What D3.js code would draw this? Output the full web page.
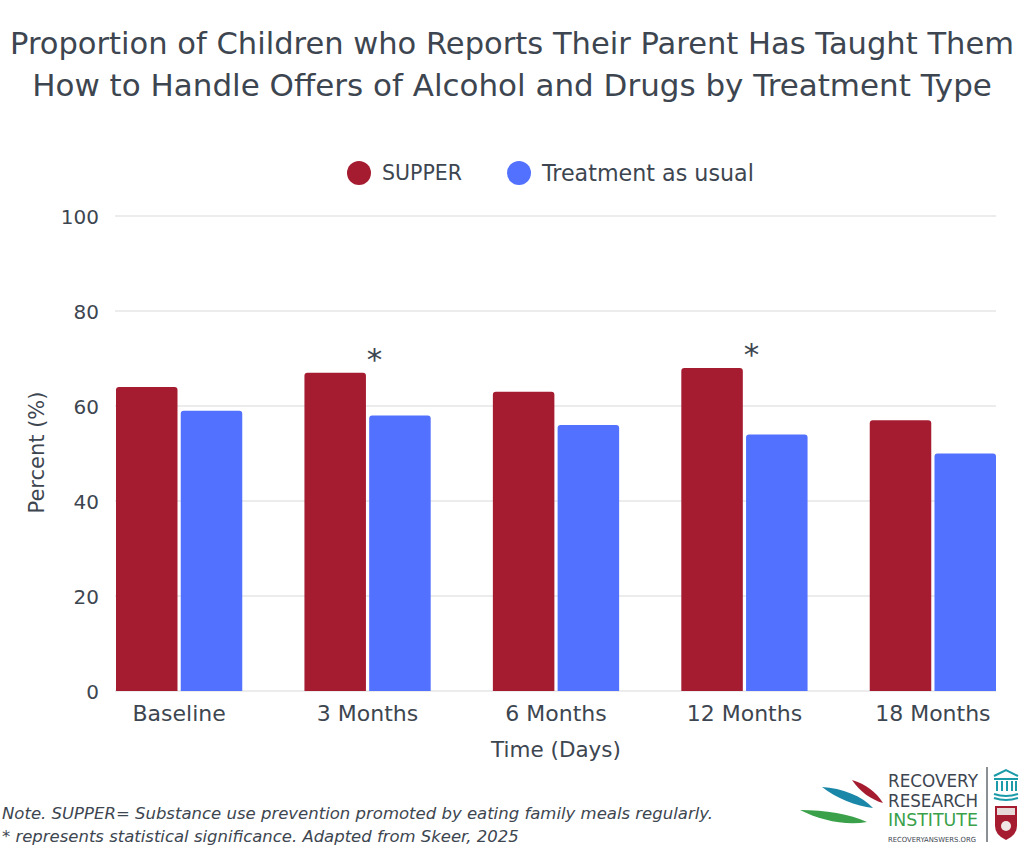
<!DOCTYPE html>
<html>
<head>
<meta charset="utf-8">
<script src="https://cdn.jsdelivr.net/npm/d3@7"></script>
<style>
  html, body { margin: 0; padding: 0; background: #fff; }
  svg { display: block; }
  text { font-family: "DejaVu Sans", "Noto Sans", sans-serif; fill: #3d4650; }
</style>
</head>
<body>
<div id="chart"></div>
<script>
// Data
const categories = ['Baseline', '3 Months', '6 Months', '12 Months', '18 Months'];
const seriesNames = ['SUPPER', 'Treatment as usual'];
const supperValues = [64, 67, 63, 68, 57];
const tauValues = [59, 58, 56, 54, 50];
const significant = [false, true, false, true, false];
const yTicks = [0, 20, 40, 60, 80, 100];
const colors = ['#a51c30', '#5271ff'];

const titleLines = [
  'Proportion of Children who Reports Their Parent Has Taught Them',
  'How to Handle Offers of Alcohol and Drugs by Treatment Type'
];
const noteLines = [
  'Note. SUPPER= Substance use prevention promoted by eating family meals regularly.',
  '* represents statistical significance. Adapted from Skeer, 2025'
];

const width = 1024, height = 850;
const plot = { left: 116, right: 996, top: 216, bottom: 691 };

const svg = d3.select('#chart').append('svg')
  .attr('width', width)
  .attr('height', height);

// Fit a text element to a given width by scaling its font size
function fitWidth(sel, target) {
  sel.each(function () {
    const fs = parseFloat(d3.select(this).attr('font-size'));
    const w = this.getComputedTextLength();
    if (w > 0) d3.select(this).attr('font-size', (fs * target / w).toFixed(2));
  });
}

// Title
const titleWidths = [1004, 960];
svg.append('g').selectAll('text')
  .data(titleLines)
  .join('text')
  .attr('x', width / 2)
  .attr('y', (d, i) => 54 + i * 42)
  .attr('text-anchor', 'middle')
  .attr('font-size', 30)
  .text(d => d)
  .each(function (d, i) { fitWidth(d3.select(this), titleWidths[i]); });

// Scales
const x0 = d3.scaleBand()
  .domain(categories)
  .range([plot.left, plot.right])
  .paddingInner(0.33)
  .paddingOuter(0);

const x1 = d3.scaleBand()
  .domain(seriesNames)
  .range([0, x0.bandwidth()])
  .paddingInner(0.05);

const y = d3.scaleLinear()
  .domain([0, 100])
  .range([plot.bottom, plot.top]);

// Gridlines
svg.append('g')
  .selectAll('line')
  .data(yTicks)
  .join('line')
  .attr('x1', plot.left - 1)
  .attr('x2', plot.right)
  .attr('y1', d => y(d))
  .attr('y2', d => y(d))
  .attr('stroke', '#e6e6e6')
  .attr('stroke-width', 1.5);

// Y axis labels
const yAxis = svg.append('g')
  .attr('transform', `translate(${plot.left - 17},0)`)
  .call(d3.axisLeft(y).tickValues(yTicks).tickSize(0).tickPadding(0));
yAxis.select('.domain').remove();
yAxis.selectAll('text')
  .attr('font-size', 20)
  .attr('font-family', '"DejaVu Sans", sans-serif')
  .attr('fill', '#3d4650')
  .attr('dy', '0.36em');

// X axis labels
const xAxis = svg.append('g')
  .attr('transform', `translate(0,${plot.bottom})`)
  .call(d3.axisBottom(x0).tickSize(0).tickPadding(14));
xAxis.select('.domain').remove();
xAxis.selectAll('text')
  .attr('font-size', 22)
  .attr('font-family', '"DejaVu Sans", sans-serif')
  .attr('fill', '#3d4650');

// Axis titles
svg.append('text')
  .attr('x', (plot.left + plot.right) / 2)
  .attr('y', 757)
  .attr('text-anchor', 'middle')
  .attr('font-size', 21.5)
  .text('Time (Days)');

svg.append('text')
  .attr('transform', `translate(44,${(plot.top + plot.bottom) / 2 - 1}) rotate(-90)`)
  .attr('text-anchor', 'middle')
  .attr('font-size', 21)
  .text('Percent (%)');

// Bars with rounded top corners
function topRounded(x, yTop, w, h, r) {
  r = Math.min(r, w / 2, h);
  return `M${x},${yTop + h}V${yTop + r}Q${x},${yTop} ${x + r},${yTop}` +
    `H${x + w - r}Q${x + w},${yTop} ${x + w},${yTop + r}V${yTop + h}Z`;
}

const rows = categories.map((c, i) => ({
  category: c,
  values: [supperValues[i], tauValues[i]],
  sig: significant[i]
}));

const groups = svg.append('g')
  .selectAll('g')
  .data(rows)
  .join('g')
  .attr('transform', d => `translate(${x0(d.category)},0)`);

groups.selectAll('path')
  .data(d => d.values.map((v, j) => ({ series: seriesNames[j], value: v, j })))
  .join('path')
  .attr('d', d => topRounded(x1(d.series), y(d.value), x1.bandwidth(), y(0) - y(d.value), 3))
  .attr('fill', d => colors[d.j]);

// Significance asterisks
groups.filter(d => d.sig)
  .append('text')
  .attr('x', x0.bandwidth() / 2 + 7)
  .attr('y', d => y(d.values[0]) - 3)
  .attr('text-anchor', 'middle')
  .attr('font-size', 31)
  .text('*');

// Legend
const legendItems = [
  { name: seriesNames[0], color: colors[0], cx: 359, w: 80 },
  { name: seriesNames[1], color: colors[1], cx: 519, w: 212 }
];
const legend = svg.append('g')
  .selectAll('g')
  .data(legendItems)
  .join('g')
  .attr('transform', d => `translate(${d.cx},173)`);
legend.append('circle')
  .attr('r', 12)
  .attr('fill', d => d.color);
legend.append('text')
  .attr('x', 23)
  .attr('dy', '0.36em')
  .attr('font-size', 21)
  .text(d => d.name)
  .each(function (d) { fitWidth(d3.select(this), d.w); });

// Note
svg.append('g').selectAll('text')
  .data(noteLines)
  .join('text')
  .attr('x', 2)
  .attr('y', (d, i) => 819 + i * 23)
  .attr('font-size', 16)
  .attr('font-style', 'italic')
  .text(d => d)
  .each(function (d, i) { fitWidth(d3.select(this), [711, 517][i]); });

// Logo (approximation)
const logo = svg.append('g');
logo.append('path')
  .attr('d', 'M852,780 C866,784 876,792 883,803 C872,800 860,792 852,780 Z')
  .attr('fill', '#a51c30');
logo.append('path')
  .attr('d', 'M822,787 C842,788 862,796 873,808 C856,806 836,798 822,787 Z')
  .attr('fill', '#1b87a8');
logo.append('path')
  .attr('d', 'M800,810 C825,810 850,814 867,822 C845,826 820,820 800,810 Z')
  .attr('fill', '#3aa14a');

const logoText = [
  { t: 'RECOVERY', y: 787, size: 18, color: '#3d4650', w: 90 },
  { t: 'RESEARCH', y: 807, size: 18, color: '#3d4650', w: 90 },
  { t: 'INSTITUTE', y: 826, size: 18, color: '#3aa14a', w: 90 },
  { t: 'RECOVERYANSWERS.ORG', y: 842, size: 7, color: '#3d4650', w: 88 }
];
logo.selectAll('text')
  .data(logoText)
  .join('text')
  .attr('x', 888)
  .attr('y', d => d.y)
  .attr('font-size', d => d.size)
  .attr('textLength', d => d.w)
  .attr('lengthAdjust', 'spacingAndGlyphs')
  .style('fill', d => d.color)
  .text(d => d.t);

logo.append('line')
  .attr('x1', 987).attr('x2', 987)
  .attr('y1', 767).attr('y2', 842)
  .attr('stroke', '#3d4650')
  .attr('stroke-width', 1.2);

// Building icon
const icon = logo.append('g').attr('fill', 'none').attr('stroke', '#1b9aa8').attr('stroke-width', 2);
icon.append('path').attr('d', 'M994,776 L1006,770 L1018,776');
icon.append('line').attr('x1', 994).attr('x2', 1018).attr('y1', 779).attr('y2', 779);
[997, 1002, 1007, 1012, 1016].forEach(xx => {
  icon.append('line').attr('x1', xx).attr('x2', xx).attr('y1', 781).attr('y2', 791);
});
icon.append('path').attr('d', 'M994,794 Q1006,798 1018,794');
icon.append('path').attr('d', 'M994,798 Q1006,802 1018,798');

// Shield
logo.append('path')
  .attr('d', 'M995,806 H1017 V826 Q1017,835 1006,840 Q995,835 995,826 Z')
  .attr('fill', '#a51c30');
logo.append('rect')
  .attr('x', 997).attr('y', 808).attr('width', 18).attr('height', 7)
  .attr('fill', '#e8d9d9');
logo.append('circle')
  .attr('cx', 1006).attr('cy', 826).attr('r', 5)
  .attr('fill', '#f1e6e6');
</script>
</body>
</html>
